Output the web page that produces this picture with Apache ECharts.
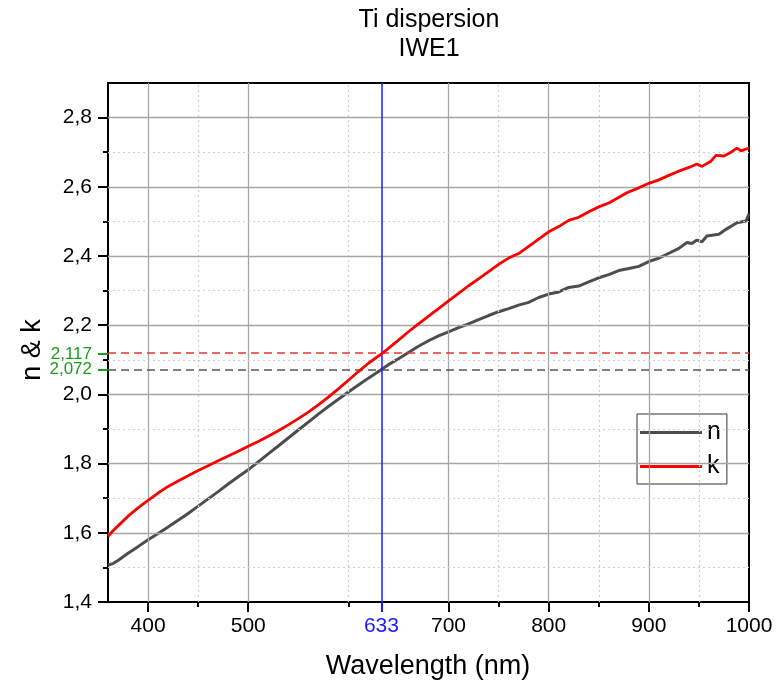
<!DOCTYPE html>
<html>
<head>
<meta charset="utf-8">
<script src="https://cdn.jsdelivr.net/npm/echarts@6/dist/echarts.min.js"></script>
<style>html,body{margin:0;padding:0;background:#fff}#c{width:776px;height:688px}</style>
</head>
<body>
<div id="c"></div>
<script>
// ---- data ----
const nWl  = [360,365,370,380,390,400,410,420,430,440,450,460,470,480,490,500,510,520,530,540,550,560,570,580,590,600,610,620,633,640,650,660,670,680,690,700,710,720,730,740,750,760,770,780,790,800,810,820,830,840,850,860,870,880,890,900,910,920,930,938,943,948,953,958,970,977,988,997,1000];
const nVal = [1.507,1.511,1.520,1.541,1.560,1.580,1.598,1.617,1.636,1.656,1.677,1.698,1.719,1.741,1.762,1.782,1.805,1.828,1.851,1.874,1.897,1.920,1.943,1.965,1.986,2.007,2.027,2.047,2.072,2.086,2.103,2.121,2.139,2.155,2.169,2.181,2.193,2.204,2.216,2.228,2.239,2.248,2.258,2.266,2.280,2.290,2.296,2.309,2.313,2.325,2.337,2.346,2.358,2.364,2.370,2.384,2.394,2.408,2.422,2.439,2.436,2.446,2.441,2.458,2.463,2.477,2.496,2.501,2.522];
const kWl  = [360,365,370,380,390,400,410,420,430,440,450,460,470,480,490,500,510,520,530,540,550,560,570,580,590,600,610,620,633,640,650,660,670,680,690,700,710,720,730,740,750,760,770,780,790,800,810,820,830,840,850,860,868,878,890,900,910,920,928,940,948,953,962,967,975,982,988,992,1000];
const kVal = [1.590,1.606,1.620,1.648,1.672,1.694,1.715,1.734,1.750,1.765,1.780,1.794,1.808,1.822,1.836,1.850,1.864,1.879,1.895,1.912,1.930,1.949,1.970,1.992,2.016,2.041,2.066,2.090,2.117,2.133,2.157,2.181,2.204,2.226,2.248,2.270,2.292,2.314,2.334,2.355,2.376,2.394,2.407,2.428,2.449,2.470,2.485,2.503,2.512,2.528,2.542,2.553,2.566,2.583,2.597,2.610,2.620,2.633,2.643,2.656,2.666,2.659,2.674,2.691,2.689,2.700,2.712,2.704,2.712];

const refWavelength = 633;
const refN = 2.072;
const refK = 2.117;

const xMajorTicks = [400,500,700,800,900,1000];
const xLabelTicks = [400,500,633,700,800,900,1000];
const xMinorTicks = [450,600,750,850,950];
const xMajorGrid  = [400,500,700,800,900];
const yMajorTicks = [1.4,1.6,1.8,2.0,2.2,2.4,2.6,2.8];
const yMinorTicks = [1.5,1.7,1.9,2.1,2.3,2.5,2.7];
const yMajorGrid  = [1.6,1.8,2.0,2.2,2.4,2.6,2.8];

const X_MIN = 360, X_MAX = 1000, Y_MIN = 1.4, Y_MAX = 2.9;

// ---- chart ----
const FONT = 'Liberation Sans, Arial, sans-serif';
const GREEN = '#1c9a1c';
const chart = echarts.init(document.getElementById('c'), null, {renderer:'canvas'});
const comma = (v, d) => v.toFixed(d).replace('.', ',');

function baseX(extra){
  return Object.assign({type:'value', min:X_MIN, max:X_MAX, position:'bottom',
    splitLine:{show:false}, axisLine:{show:false}, axisLabel:{show:false}, axisTick:{show:false}}, extra);
}
function baseY(extra){
  return Object.assign({type:'value', min:Y_MIN, max:Y_MAX, position:'left',
    splitLine:{show:false}, axisLine:{show:false}, axisLabel:{show:false}, axisTick:{show:false}}, extra);
}
function markAxis(v){
  return baseY({axisTick:{show:true, customValues:[v], length:10, lineStyle:{color:GREEN, width:2}},
    axisLabel:{show:true, customValues:[v], showMinLabel:true, showMaxLabel:true, margin:16, fontSize:17, fontFamily:FONT, color:GREEN,
      formatter:(x)=> comma(Number(x),3)}});
}

const gridLines = [];
xMajorGrid.forEach(v => gridLines.push({xAxis:v, lineStyle:{color:'#a6a6a6', width:1.3, type:'solid'}}));
xMinorTicks.forEach(v => gridLines.push({xAxis:v, lineStyle:{color:'#cfcfcf', width:1.2, type:[2,3]}}));
yMajorGrid.forEach(v => gridLines.push({yAxis:v, lineStyle:{color:'#a6a6a6', width:1.3, type:'solid'}}));
yMinorTicks.forEach(v => gridLines.push({yAxis:v, lineStyle:{color:'#cfcfcf', width:1.2, type:[2,3]}}));

const option = {
  animation:false,
  backgroundColor:'#fff',
  textStyle:{fontFamily:FONT},
  grid:{left:108, right:27, top:83, bottom:86, show:true, borderColor:'#000', borderWidth:2, backgroundColor:'transparent'},
  graphic:[
    {type:'text', x:429, y:20, style:{text:'Ti dispersion', fontSize:25, fontFamily:FONT, fill:'#000', align:'center', verticalAlign:'middle'}},
    {type:'text', x:429, y:49, style:{text:'IWE1', fontSize:25, fontFamily:FONT, fill:'#000', align:'center', verticalAlign:'middle'}},
    {type:'text', x:428, y:667, style:{text:'Wavelength (nm)', fontSize:27, fontFamily:FONT, fill:'#000', align:'center', verticalAlign:'middle'}},
    {type:'text', x:33, y:350, rotation:Math.PI/2, style:{text:'n & k', fontSize:27, fontFamily:FONT, fill:'#000', align:'center', verticalAlign:'middle'}}
  ],
  legend:{
    data:['n','k'], orient:'vertical', left:637, top:414,
    icon:'rect', itemWidth:62, itemHeight:3, itemGap:9,
    backgroundColor:'#fff', borderColor:'#333', borderWidth:1, borderRadius:0,
    padding:[6,6,5,3],
    textStyle:{fontSize:25, color:'#000', fontFamily:FONT}
  },
  xAxis:[
    baseX({axisLine:{show:true, onZero:false, lineStyle:{color:'#000', width:2}},
      axisTick:{show:true, customValues:xMajorTicks, length:10, inside:false, lineStyle:{color:'#000', width:2}},
      axisLabel:{show:true, customValues:xLabelTicks, showMinLabel:true, showMaxLabel:true, margin:14, fontSize:21, fontFamily:FONT,
        color:(v)=> (Number(v)===refWavelength ? '#1a1aff' : '#000'),
        formatter:(v)=> String(Math.round(v))}}),
    baseX({axisTick:{show:true, customValues:xMinorTicks, length:5, lineStyle:{color:'#000', width:2}}}),
    baseX({axisTick:{show:true, customValues:[refWavelength], length:10, lineStyle:{color:'#1a1aff', width:2}}})
  ],
  yAxis:[
    baseY({axisLine:{show:true, onZero:false, lineStyle:{color:'#000', width:2}},
      axisTick:{show:true, customValues:yMajorTicks, length:10, lineStyle:{color:'#000', width:2}},
      axisLabel:{show:true, customValues:yMajorTicks, showMinLabel:true, showMaxLabel:true, margin:16, fontSize:21, fontFamily:FONT, color:'#000',
        formatter:(v)=> comma(Number(v),1)}}),
    baseY({axisTick:{show:true, customValues:yMinorTicks, length:5, lineStyle:{color:'#000', width:2}}}),
    markAxis(refN),
    markAxis(refK)
  ],
  series:[
    {name:'grid', type:'line', data:[], z:1, silent:true,
      markLine:{silent:true, symbol:'none', animation:false, label:{show:false}, data:gridLines}},
    {name:'refs', type:'line', data:[], z:3, silent:true,
      markLine:{silent:true, symbol:'none', animation:false, label:{show:false}, data:[
        {yAxis:refN, lineStyle:{color:'#555', width:1.5, type:[8,5]}},
        {yAxis:refK, lineStyle:{color:'#ee3333', width:1.5, type:[8,5]}},
        {xAxis:refWavelength, lineStyle:{color:'#1a1aff', width:1.5, type:'solid'}}
      ]}},
    {name:'n', type:'line', z:4, symbol:'none', showSymbol:false, color:'#4d4d4d',
      lineStyle:{color:'#4d4d4d', width:3}, data:nWl.map((w,i)=>[w,nVal[i]])},
    {name:'k', type:'line', z:5, symbol:'none', showSymbol:false, color:'#ff0000',
      lineStyle:{color:'#ff0000', width:2.8}, data:kWl.map((w,i)=>[w,kVal[i]])}
  ]
};
chart.setOption(option);
</script>
</body>
</html>
